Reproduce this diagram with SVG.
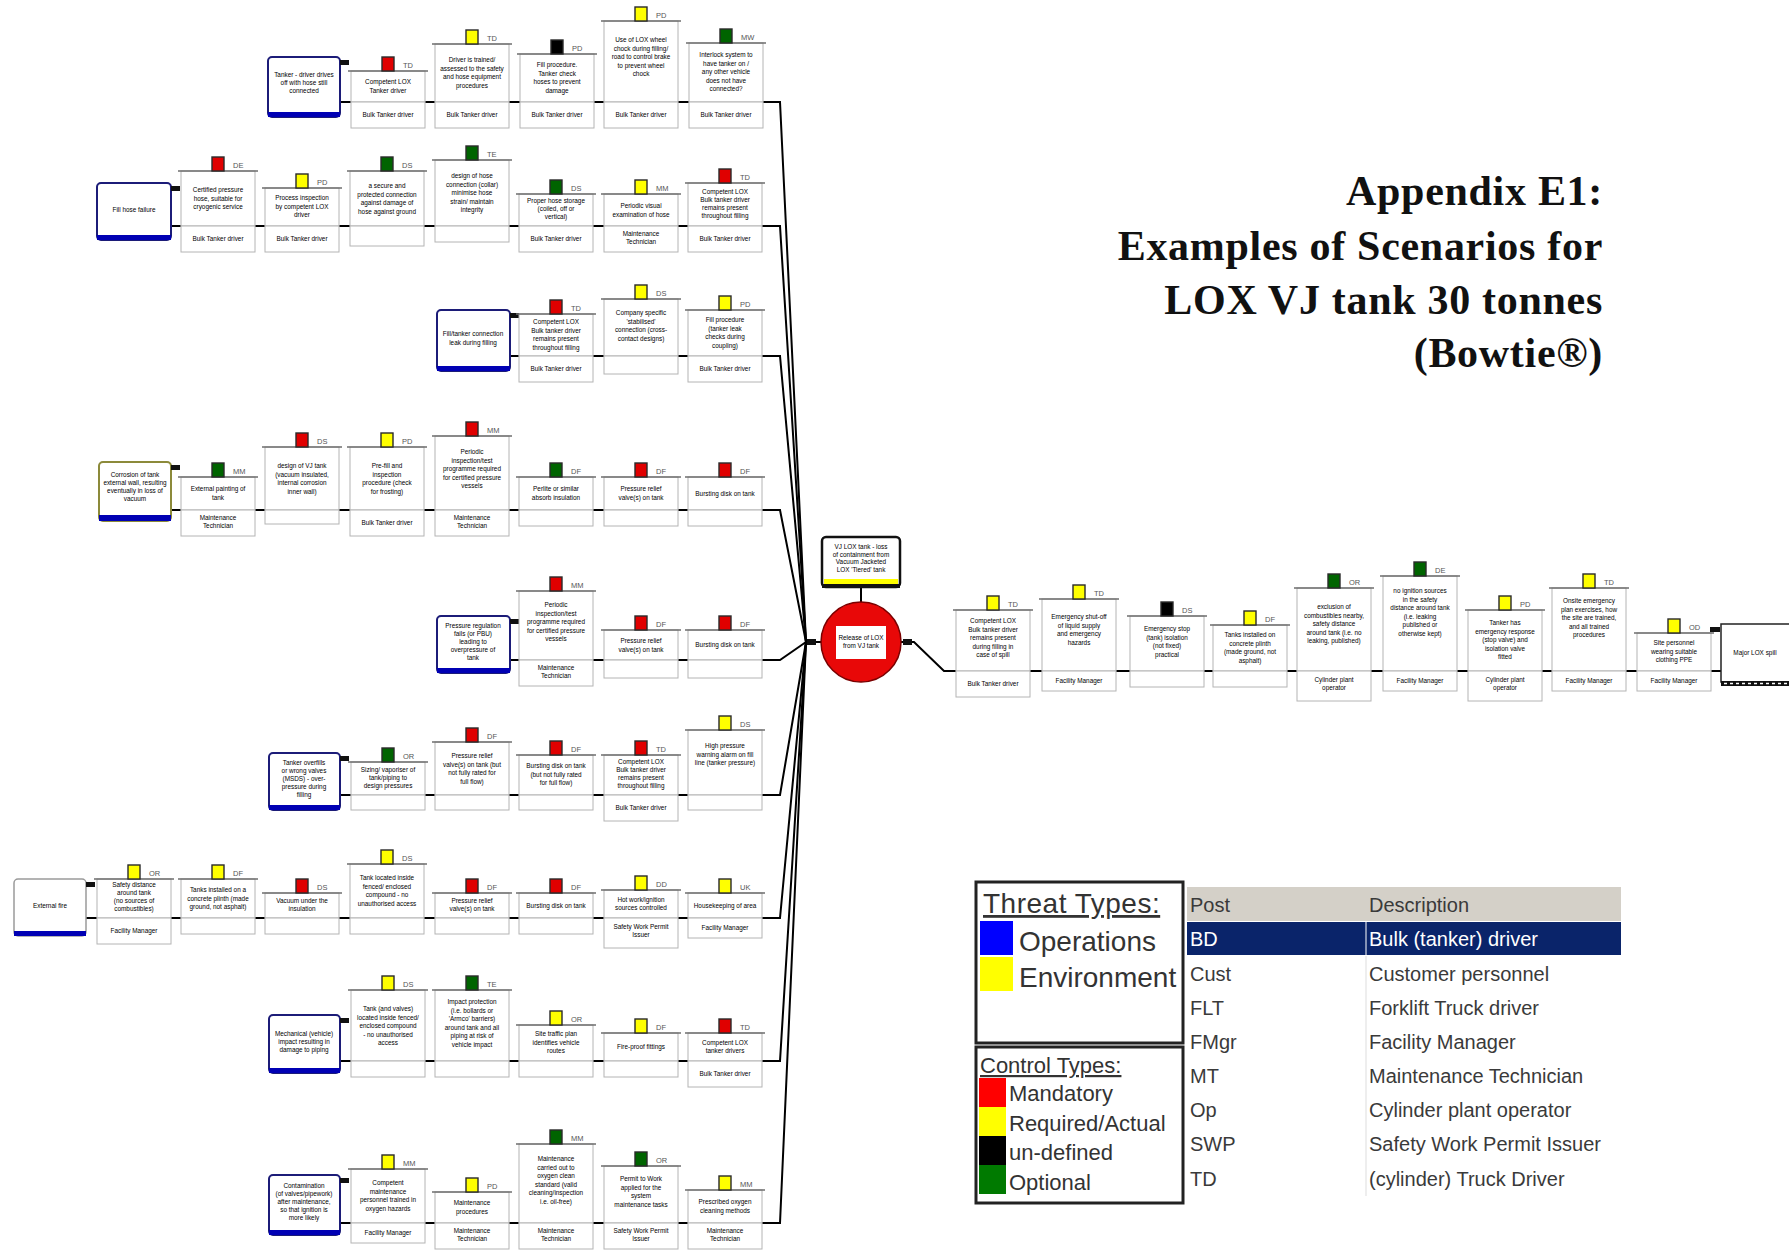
<svg xmlns="http://www.w3.org/2000/svg" width="1789" height="1251" viewBox="0 0 1789 1251">
<style>
.bg{fill:#fff}
.bx{fill:#fff;stroke:#b4b4b4;stroke-width:1}
.hd{stroke:#6e6e6e;stroke-width:1.4}
.ind{stroke:#2a2a2a;stroke-width:1.4}
.r{fill:#e00000}.y{fill:#ffff00}.k{fill:#000}.g{fill:#006400}
.cd{font-family:"Liberation Sans",Arial,sans-serif;font-size:7.5px;fill:#555}
.bt{font-family:"Liberation Sans",Arial,sans-serif;font-size:6.4px;fill:#000;text-anchor:middle}
.th{fill:#fff;stroke:#1c1c78;stroke-width:2}
.thy{fill:#fff;stroke:#8c8a3a;stroke-width:2}
.thg{fill:#fff;stroke:#9a9a9a;stroke-width:1.5}
.thb{fill:#0000b4}
.kn{fill:#111}
.ln{stroke:#000;stroke-width:2;fill:none}
.ttl{font-family:"Liberation Serif","Times New Roman",serif;font-weight:bold;font-size:42px;letter-spacing:0.7px;fill:#111;text-anchor:end}
.lg{font-family:"Liberation Sans",Arial,sans-serif;fill:#333}
.tb{font-family:"Liberation Sans",Arial,sans-serif;font-size:20px;fill:#3a3a3a}
</style>
<rect class="bg" x="0" y="0" width="1789" height="1251"/>

<!-- title -->
<g id="title">
<text class="ttl" x="1603" y="205">Appendix E1:</text>
<text class="ttl" x="1603" y="260">Examples of Scenarios for</text>
<text class="ttl" x="1603" y="314">LOX VJ tank 30 tonnes</text>
<text class="ttl" x="1603" y="367">(Bowtie®)</text>
</g>

<!-- connectors: threat lines, bundle into the top event, consequence line -->
<g id="connectors">
<path class="ln" d="M340,102 H780 L806,642"/>
<path class="ln" d="M171,226 H780 L806,642"/>
<path class="ln" d="M510,356 H780 L806,642"/>
<path class="ln" d="M171,510 H780 L806,642"/>
<path class="ln" d="M510,660 H780 L806,642"/>
<path class="ln" d="M340,795 H780 L806,642"/>
<path class="ln" d="M86,918 H780 L806,642"/>
<path class="ln" d="M340,1061 H780 L806,642"/>
<path class="ln" d="M340,1223 H780 L806,642"/>
<path class="ln" d="M806,642 H822"/>
<rect class="kn" x="807" y="639" width="9" height="6"/>
<path class="ln" d="M861,588 V603"/>
<path class="ln" d="M900,642 H914 L944,671 H1722"/>
<rect class="kn" x="903" y="639" width="9" height="6"/>
<rect class="kn" x="1710" y="627" width="10" height="5"/>
</g>

<!-- hazard and top event -->
<g id="hazard">
<rect x="822" y="537" width="78" height="50" rx="4" fill="#fff" stroke="#111" stroke-width="2.5"/>
<rect x="824" y="579" width="74" height="5" fill="#ffff00"/>
<rect x="822" y="584" width="78" height="4" fill="#111"/>
<text class="bt" x="861" y="549"><tspan x="861">VJ LOX tank - loss</tspan><tspan x="861" dy="7.5">of containment from</tspan><tspan x="861" dy="7.5">Vacuum Jacketed</tspan><tspan x="861" dy="7.5">LOX 'Tiered' tank</tspan></text>
</g>
<g id="top-event">
<circle cx="861" cy="642" r="40" fill="#e80808" stroke="#7a0000" stroke-width="1.5"/>
<rect x="836" y="626" width="50" height="33" fill="#fff"/>
<text class="bt" x="861" y="640"><tspan x="861">Release of LOX</tspan><tspan x="861" dy="8">from VJ tank</tspan></text>
</g>

<!-- threat 1 -->
<g id="threat1">
<rect class="th" x="268" y="57" width="72" height="60" rx="4"/>
<rect class="thb" x="268" y="112" width="72" height="5"/>
<rect class="kn" x="340" y="60" width="9" height="5"/>
<text class="bt" x="304" y="77"><tspan x="304">Tanker - driver drives</tspan><tspan x="304" dy="8">off with hose still</tspan><tspan x="304" dy="8">connected</tspan></text>
</g>
<g id="r1b1" transform="translate(351,102)">
<rect class="bx" x="0" y="-31" width="74" height="31"/><line class="hd" x1="-3" y1="-31" x2="77" y2="-31"/>
<rect class="ind r" x="31" y="-45" width="12" height="14"/><text class="cd" x="52" y="-34">TD</text>
<text class="bt" y="-18"><tspan x="37">Competent LOX</tspan><tspan x="37" dy="8.5">Tanker driver</tspan></text>
<rect class="bx" x="0" y="0" width="74" height="26"/><text class="bt" x="37" y="15">Bulk Tanker driver</text>
</g>
<g id="r1b2" transform="translate(435,102)">
<rect class="bx" x="0" y="-58" width="74" height="58"/><line class="hd" x1="-3" y1="-58" x2="77" y2="-58"/>
<rect class="ind y" x="31" y="-72" width="12" height="14"/><text class="cd" x="52" y="-61">TD</text>
<text class="bt" y="-40"><tspan x="37">Driver is trained/</tspan><tspan x="37" dy="8.5">assessed to the safety</tspan><tspan x="37" dy="8.5">and hose equipment</tspan><tspan x="37" dy="8.5">procedures</tspan></text>
<rect class="bx" x="0" y="0" width="74" height="26"/><text class="bt" x="37" y="15">Bulk Tanker driver</text>
</g>
<g id="r1b3" transform="translate(520,102)">
<rect class="bx" x="0" y="-48" width="74" height="48"/><line class="hd" x1="-3" y1="-48" x2="77" y2="-48"/>
<rect class="ind k" x="31" y="-62" width="12" height="14"/><text class="cd" x="52" y="-51">PD</text>
<text class="bt" y="-35"><tspan x="37">Fill procedure.</tspan><tspan x="37" dy="8.5">Tanker check</tspan><tspan x="37" dy="8.5">hoses to prevent</tspan><tspan x="37" dy="8.5">damage</tspan></text>
<rect class="bx" x="0" y="0" width="74" height="26"/><text class="bt" x="37" y="15">Bulk Tanker driver</text>
</g>
<g id="r1b4" transform="translate(604,102)">
<rect class="bx" x="0" y="-81" width="74" height="81"/><line class="hd" x1="-3" y1="-81" x2="77" y2="-81"/>
<rect class="ind y" x="31" y="-95" width="12" height="14"/><text class="cd" x="52" y="-84">PD</text>
<text class="bt" y="-60"><tspan x="37">Use of LOX wheel</tspan><tspan x="37" dy="8.5">chock during filling/</tspan><tspan x="37" dy="8.5">road to control brake</tspan><tspan x="37" dy="8.5">to prevent wheel</tspan><tspan x="37" dy="8.5">chock</tspan></text>
<rect class="bx" x="0" y="0" width="74" height="26"/><text class="bt" x="37" y="15">Bulk Tanker driver</text>
</g>
<g id="r1b5" transform="translate(689,102)">
<rect class="bx" x="0" y="-59" width="74" height="59"/><line class="hd" x1="-3" y1="-59" x2="77" y2="-59"/>
<rect class="ind g" x="31" y="-73" width="12" height="14"/><text class="cd" x="52" y="-62">MW</text>
<text class="bt" y="-45"><tspan x="37">Interlock system to</tspan><tspan x="37" dy="8.5">have tanker on /</tspan><tspan x="37" dy="8.5">any other vehicle</tspan><tspan x="37" dy="8.5">does not have</tspan><tspan x="37" dy="8.5">connected?</tspan></text>
<rect class="bx" x="0" y="0" width="74" height="26"/><text class="bt" x="37" y="15">Bulk Tanker driver</text>
</g>

<!-- threat 2 -->
<g id="threat2">
<rect class="th" x="97" y="183" width="74" height="57" rx="4"/>
<rect class="thb" x="97" y="235" width="74" height="5"/>
<rect class="kn" x="171" y="186" width="9" height="5"/>
<text class="bt" x="134" y="212">Fill hose failure</text>
</g>
<g id="r2b1" transform="translate(181,226)">
<rect class="bx" x="0" y="-55" width="74" height="55"/><line class="hd" x1="-3" y1="-55" x2="77" y2="-55"/>
<rect class="ind r" x="31" y="-69" width="12" height="14"/><text class="cd" x="52" y="-58">DE</text>
<text class="bt" y="-34"><tspan x="37">Certified pressure</tspan><tspan x="37" dy="8.5">hose, suitable for</tspan><tspan x="37" dy="8.5">cryogenic service</tspan></text>
<rect class="bx" x="0" y="0" width="74" height="26"/><text class="bt" x="37" y="15">Bulk Tanker driver</text>
</g>
<g id="r2b2" transform="translate(265,226)">
<rect class="bx" x="0" y="-38" width="74" height="38"/><line class="hd" x1="-3" y1="-38" x2="77" y2="-38"/>
<rect class="ind y" x="31" y="-52" width="12" height="14"/><text class="cd" x="52" y="-41">PD</text>
<text class="bt" y="-26"><tspan x="37">Process inspection</tspan><tspan x="37" dy="8.5">by competent LOX</tspan><tspan x="37" dy="8.5">driver</tspan></text>
<rect class="bx" x="0" y="0" width="74" height="26"/><text class="bt" x="37" y="15">Bulk Tanker driver</text>
</g>
<g id="r2b3" transform="translate(350,226)">
<rect class="bx" x="0" y="-55" width="74" height="55"/><line class="hd" x1="-3" y1="-55" x2="77" y2="-55"/>
<rect class="ind g" x="31" y="-69" width="12" height="14"/><text class="cd" x="52" y="-58">DS</text>
<text class="bt" y="-38"><tspan x="37">a secure and</tspan><tspan x="37" dy="8.5">protected connection</tspan><tspan x="37" dy="8.5">against damage of</tspan><tspan x="37" dy="8.5">hose against ground</tspan></text>
<rect class="bx" x="0" y="0" width="74" height="20"/>
</g>
<g id="r2b4" transform="translate(435,226)">
<rect class="bx" x="0" y="-66" width="74" height="66"/><line class="hd" x1="-3" y1="-66" x2="77" y2="-66"/>
<rect class="ind g" x="31" y="-80" width="12" height="14"/><text class="cd" x="52" y="-69">TE</text>
<text class="bt" y="-48"><tspan x="37">design of hose</tspan><tspan x="37" dy="8.5">connection (collar)</tspan><tspan x="37" dy="8.5">minimise hose</tspan><tspan x="37" dy="8.5">strain/ maintain</tspan><tspan x="37" dy="8.5">integrity</tspan></text>
<rect class="bx" x="0" y="0" width="74" height="16"/>
</g>
<g id="r2b5" transform="translate(519,226)">
<rect class="bx" x="0" y="-32" width="74" height="32"/><line class="hd" x1="-3" y1="-32" x2="77" y2="-32"/>
<rect class="ind g" x="31" y="-46" width="12" height="14"/><text class="cd" x="52" y="-35">DS</text>
<text class="bt" y="-23"><tspan x="37">Proper hose storage</tspan><tspan x="37" dy="8">(coiled, off or</tspan><tspan x="37" dy="8">vertical)</tspan></text>
<rect class="bx" x="0" y="0" width="74" height="26"/><text class="bt" x="37" y="15">Bulk Tanker driver</text>
</g>
<g id="r2b6" transform="translate(604,226)">
<rect class="bx" x="0" y="-32" width="74" height="32"/><line class="hd" x1="-3" y1="-32" x2="77" y2="-32"/>
<rect class="ind y" x="31" y="-46" width="12" height="14"/><text class="cd" x="52" y="-35">MM</text>
<text class="bt" y="-18"><tspan x="37">Periodic visual</tspan><tspan x="37" dy="8.5">examination of hose</tspan></text>
<rect class="bx" x="0" y="0" width="74" height="26"/><text class="bt" y="10"><tspan x="37">Maintenance</tspan><tspan x="37" dy="8">Technician</tspan></text>
</g>
<g id="r2b7" transform="translate(688,226)">
<rect class="bx" x="0" y="-43" width="74" height="43"/><line class="hd" x1="-3" y1="-43" x2="77" y2="-43"/>
<rect class="ind r" x="31" y="-57" width="12" height="14"/><text class="cd" x="52" y="-46">TD</text>
<text class="bt" y="-32"><tspan x="37">Competent LOX</tspan><tspan x="37" dy="8">Bulk tanker driver</tspan><tspan x="37" dy="8">remains present</tspan><tspan x="37" dy="8">throughout filling</tspan></text>
<rect class="bx" x="0" y="0" width="74" height="26"/><text class="bt" x="37" y="15">Bulk Tanker driver</text>
</g>

<!-- threat 3 -->
<g id="threat3">
<rect class="th" x="437" y="310" width="73" height="61" rx="4"/>
<rect class="thb" x="437" y="366" width="73" height="5"/>
<rect class="kn" x="510" y="313" width="9" height="5"/>
<text class="bt" x="473" y="336"><tspan x="473">Fill/tanker connection</tspan><tspan x="473" dy="8.5">leak during filling</tspan></text>
</g>
<g id="r3b1" transform="translate(519,356)">
<rect class="bx" x="0" y="-42" width="74" height="42"/><line class="hd" x1="-3" y1="-42" x2="77" y2="-42"/>
<rect class="ind r" x="31" y="-56" width="12" height="14"/><text class="cd" x="52" y="-45">TD</text>
<text class="bt" y="-32"><tspan x="37">Competent LOX</tspan><tspan x="37" dy="8.5">Bulk tanker driver</tspan><tspan x="37" dy="8.5">remains present</tspan><tspan x="37" dy="8.5">throughout filling</tspan></text>
<rect class="bx" x="0" y="0" width="74" height="26"/><text class="bt" x="37" y="15">Bulk Tanker driver</text>
</g>
<g id="r3b2" transform="translate(604,356)">
<rect class="bx" x="0" y="-57" width="74" height="57"/><line class="hd" x1="-3" y1="-57" x2="77" y2="-57"/>
<rect class="ind y" x="31" y="-71" width="12" height="14"/><text class="cd" x="52" y="-60">DS</text>
<text class="bt" y="-41"><tspan x="37">Company specific</tspan><tspan x="37" dy="8.5">'stabilised'</tspan><tspan x="37" dy="8.5">connection (cross-</tspan><tspan x="37" dy="8.5">contact designs)</tspan></text>
<rect class="bx" x="0" y="0" width="74" height="18"/>
</g>
<g id="r3b3" transform="translate(688,356)">
<rect class="bx" x="0" y="-46" width="74" height="46"/><line class="hd" x1="-3" y1="-46" x2="77" y2="-46"/>
<rect class="ind y" x="31" y="-60" width="12" height="14"/><text class="cd" x="52" y="-49">PD</text>
<text class="bt" y="-34"><tspan x="37">Fill procedure</tspan><tspan x="37" dy="8.5">(tanker leak</tspan><tspan x="37" dy="8.5">checks during</tspan><tspan x="37" dy="8.5">coupling)</tspan></text>
<rect class="bx" x="0" y="0" width="74" height="26"/><text class="bt" x="37" y="15">Bulk Tanker driver</text>
</g>

<!-- threat 4 -->
<g id="threat4">
<rect class="thy" x="99" y="462" width="72" height="59" rx="4"/>
<rect class="thb" x="99" y="515" width="72" height="6"/>
<rect class="kn" x="171" y="465" width="9" height="5"/>
<text class="bt" x="135" y="477"><tspan x="135">Corrosion of tank</tspan><tspan x="135" dy="8">external wall, resulting</tspan><tspan x="135" dy="8">eventually in loss of</tspan><tspan x="135" dy="8">vacuum</tspan></text>
</g>
<g id="r4b1" transform="translate(181,510)">
<rect class="bx" x="0" y="-33" width="74" height="33"/><line class="hd" x1="-3" y1="-33" x2="77" y2="-33"/>
<rect class="ind g" x="31" y="-47" width="12" height="14"/><text class="cd" x="52" y="-36">MM</text>
<text class="bt" y="-19"><tspan x="37">External painting of</tspan><tspan x="37" dy="8.5">tank</tspan></text>
<rect class="bx" x="0" y="0" width="74" height="26"/><text class="bt" y="10"><tspan x="37">Maintenance</tspan><tspan x="37" dy="8">Technician</tspan></text>
</g>
<g id="r4b2" transform="translate(265,510)">
<rect class="bx" x="0" y="-63" width="74" height="63"/><line class="hd" x1="-3" y1="-63" x2="77" y2="-63"/>
<rect class="ind r" x="31" y="-77" width="12" height="14"/><text class="cd" x="52" y="-66">DS</text>
<text class="bt" y="-42"><tspan x="37">design of VJ tank</tspan><tspan x="37" dy="8.5">(vacuum insulated,</tspan><tspan x="37" dy="8.5">internal corrosion</tspan><tspan x="37" dy="8.5">inner wall)</tspan></text>
<rect class="bx" x="0" y="0" width="74" height="14"/>
</g>
<g id="r4b3" transform="translate(350,510)">
<rect class="bx" x="0" y="-63" width="74" height="63"/><line class="hd" x1="-3" y1="-63" x2="77" y2="-63"/>
<rect class="ind y" x="31" y="-77" width="12" height="14"/><text class="cd" x="52" y="-66">PD</text>
<text class="bt" y="-42"><tspan x="37">Pre-fill and</tspan><tspan x="37" dy="8.5">inspection</tspan><tspan x="37" dy="8.5">procedure (check</tspan><tspan x="37" dy="8.5">for frosting)</tspan></text>
<rect class="bx" x="0" y="0" width="74" height="26"/><text class="bt" x="37" y="15">Bulk Tanker driver</text>
</g>
<g id="r4b4" transform="translate(435,510)">
<rect class="bx" x="0" y="-74" width="74" height="74"/><line class="hd" x1="-3" y1="-74" x2="77" y2="-74"/>
<rect class="ind r" x="31" y="-88" width="12" height="14"/><text class="cd" x="52" y="-77">MM</text>
<text class="bt" y="-56"><tspan x="37">Periodic</tspan><tspan x="37" dy="8.5">inspection/test</tspan><tspan x="37" dy="8.5">programme required</tspan><tspan x="37" dy="8.5">for certified pressure</tspan><tspan x="37" dy="8.5">vessels</tspan></text>
<rect class="bx" x="0" y="0" width="74" height="26"/><text class="bt" y="10"><tspan x="37">Maintenance</tspan><tspan x="37" dy="8">Technician</tspan></text>
</g>
<g id="r4b5" transform="translate(519,510)">
<rect class="bx" x="0" y="-33" width="74" height="33"/><line class="hd" x1="-3" y1="-33" x2="77" y2="-33"/>
<rect class="ind g" x="31" y="-47" width="12" height="14"/><text class="cd" x="52" y="-36">DF</text>
<text class="bt" y="-19"><tspan x="37">Perlite or similar</tspan><tspan x="37" dy="8.5">absorb insulation</tspan></text>
<rect class="bx" x="0" y="0" width="74" height="16"/>
</g>
<g id="r4b6" transform="translate(604,510)">
<rect class="bx" x="0" y="-33" width="74" height="33"/><line class="hd" x1="-3" y1="-33" x2="77" y2="-33"/>
<rect class="ind r" x="31" y="-47" width="12" height="14"/><text class="cd" x="52" y="-36">DF</text>
<text class="bt" y="-19"><tspan x="37">Pressure relief</tspan><tspan x="37" dy="8.5">valve(s) on tank</tspan></text>
<rect class="bx" x="0" y="0" width="74" height="16"/>
</g>
<g id="r4b7" transform="translate(688,510)">
<rect class="bx" x="0" y="-33" width="74" height="33"/><line class="hd" x1="-3" y1="-33" x2="77" y2="-33"/>
<rect class="ind r" x="31" y="-47" width="12" height="14"/><text class="cd" x="52" y="-36">DF</text>
<text class="bt" x="37" y="-14">Bursting disk on tank</text>
<rect class="bx" x="0" y="0" width="74" height="16"/>
</g>

<!-- threat 5 -->
<g id="threat5">
<rect class="th" x="437" y="616" width="73" height="57" rx="4"/>
<rect class="thb" x="437" y="668" width="73" height="5"/>
<rect class="kn" x="510" y="619" width="9" height="5"/>
<text class="bt" x="473" y="628"><tspan x="473">Pressure regulation</tspan><tspan x="473" dy="8">fails (or PBU)</tspan><tspan x="473" dy="8">leading to</tspan><tspan x="473" dy="8">overpressure of</tspan><tspan x="473" dy="8">tank</tspan></text>
</g>
<g id="r5b1" transform="translate(519,660)">
<rect class="bx" x="0" y="-69" width="74" height="69"/><line class="hd" x1="-3" y1="-69" x2="77" y2="-69"/>
<rect class="ind r" x="31" y="-83" width="12" height="14"/><text class="cd" x="52" y="-72">MM</text>
<text class="bt" y="-53"><tspan x="37">Periodic</tspan><tspan x="37" dy="8.5">inspection/test</tspan><tspan x="37" dy="8.5">programme required</tspan><tspan x="37" dy="8.5">for certified pressure</tspan><tspan x="37" dy="8.5">vessels</tspan></text>
<rect class="bx" x="0" y="0" width="74" height="26"/><text class="bt" y="10"><tspan x="37">Maintenance</tspan><tspan x="37" dy="8">Technician</tspan></text>
</g>
<g id="r5b2" transform="translate(604,660)">
<rect class="bx" x="0" y="-30" width="74" height="30"/><line class="hd" x1="-3" y1="-30" x2="77" y2="-30"/>
<rect class="ind r" x="31" y="-44" width="12" height="14"/><text class="cd" x="52" y="-33">DF</text>
<text class="bt" y="-17"><tspan x="37">Pressure relief</tspan><tspan x="37" dy="8.5">valve(s) on tank</tspan></text>
<rect class="bx" x="0" y="0" width="74" height="18"/>
</g>
<g id="r5b3" transform="translate(688,660)">
<rect class="bx" x="0" y="-30" width="74" height="30"/><line class="hd" x1="-3" y1="-30" x2="77" y2="-30"/>
<rect class="ind r" x="31" y="-44" width="12" height="14"/><text class="cd" x="52" y="-33">DF</text>
<text class="bt" x="37" y="-13">Bursting disk on tank</text>
<rect class="bx" x="0" y="0" width="74" height="18"/>
</g>

<!-- threat 6 -->
<g id="threat6">
<rect class="th" x="269" y="753" width="71" height="57" rx="4"/>
<rect class="thb" x="269" y="805" width="71" height="5"/>
<rect class="kn" x="340" y="756" width="9" height="5"/>
<text class="bt" x="304" y="765"><tspan x="304">Tanker overfills</tspan><tspan x="304" dy="8">or wrong valves</tspan><tspan x="304" dy="8">(MSDS) - over-</tspan><tspan x="304" dy="8">pressure during</tspan><tspan x="304" dy="8">filling</tspan></text>
</g>
<g id="r6b1" transform="translate(351,795)">
<rect class="bx" x="0" y="-33" width="74" height="33"/><line class="hd" x1="-3" y1="-33" x2="77" y2="-33"/>
<rect class="ind g" x="31" y="-47" width="12" height="14"/><text class="cd" x="52" y="-36">OR</text>
<text class="bt" y="-23"><tspan x="37">Sizing/ vaporiser of</tspan><tspan x="37" dy="8">tank/piping to</tspan><tspan x="37" dy="8">design pressures</tspan></text>
<rect class="bx" x="0" y="0" width="74" height="15"/>
</g>
<g id="r6b2" transform="translate(435,795)">
<rect class="bx" x="0" y="-53" width="74" height="53"/><line class="hd" x1="-3" y1="-53" x2="77" y2="-53"/>
<rect class="ind r" x="31" y="-67" width="12" height="14"/><text class="cd" x="52" y="-56">DF</text>
<text class="bt" y="-37"><tspan x="37">Pressure relief</tspan><tspan x="37" dy="8.5">valve(s) on tank (but</tspan><tspan x="37" dy="8.5">not fully rated for</tspan><tspan x="37" dy="8.5">full flow)</tspan></text>
<rect class="bx" x="0" y="0" width="74" height="15"/>
</g>
<g id="r6b3" transform="translate(519,795)">
<rect class="bx" x="0" y="-40" width="74" height="40"/><line class="hd" x1="-3" y1="-40" x2="77" y2="-40"/>
<rect class="ind r" x="31" y="-54" width="12" height="14"/><text class="cd" x="52" y="-43">DF</text>
<text class="bt" y="-27"><tspan x="37">Bursting disk on tank</tspan><tspan x="37" dy="8.5">(but not fully rated</tspan><tspan x="37" dy="8.5">for full flow)</tspan></text>
<rect class="bx" x="0" y="0" width="74" height="15"/>
</g>
<g id="r6b4" transform="translate(604,795)">
<rect class="bx" x="0" y="-40" width="74" height="40"/><line class="hd" x1="-3" y1="-40" x2="77" y2="-40"/>
<rect class="ind r" x="31" y="-54" width="12" height="14"/><text class="cd" x="52" y="-43">TD</text>
<text class="bt" y="-31"><tspan x="37">Competent LOX</tspan><tspan x="37" dy="8">Bulk tanker driver</tspan><tspan x="37" dy="8">remains present</tspan><tspan x="37" dy="8">throughout filling</tspan></text>
<rect class="bx" x="0" y="0" width="74" height="26"/><text class="bt" x="37" y="15">Bulk Tanker driver</text>
</g>
<g id="r6b5" transform="translate(688,795)">
<rect class="bx" x="0" y="-65" width="74" height="65"/><line class="hd" x1="-3" y1="-65" x2="77" y2="-65"/>
<rect class="ind y" x="31" y="-79" width="12" height="14"/><text class="cd" x="52" y="-68">DS</text>
<text class="bt" y="-47"><tspan x="37">High pressure</tspan><tspan x="37" dy="8.5">warning alarm on fill</tspan><tspan x="37" dy="8.5">line (tanker pressure)</tspan></text>
<rect class="bx" x="0" y="0" width="74" height="15"/>
</g>

<!-- threat 7 -->
<g id="threat7">
<rect class="thg" x="14" y="879" width="72" height="57" rx="4"/>
<rect class="thb" x="14" y="931" width="72" height="5"/>
<rect class="kn" x="86" y="882" width="9" height="5"/>
<text class="bt" x="50" y="908">External fire</text>
</g>
<g id="r7b1" transform="translate(97,918)">
<rect class="bx" x="0" y="-39" width="74" height="39"/><line class="hd" x1="-3" y1="-39" x2="77" y2="-39"/>
<rect class="ind y" x="31" y="-53" width="12" height="14"/><text class="cd" x="52" y="-42">OR</text>
<text class="bt" y="-31"><tspan x="37">Safety distance</tspan><tspan x="37" dy="8">around tank</tspan><tspan x="37" dy="8">(no sources of</tspan><tspan x="37" dy="8">combustibles)</tspan></text>
<rect class="bx" x="0" y="0" width="74" height="26"/><text class="bt" x="37" y="15">Facility Manager</text>
</g>
<g id="r7b2" transform="translate(181,918)">
<rect class="bx" x="0" y="-39" width="74" height="39"/><line class="hd" x1="-3" y1="-39" x2="77" y2="-39"/>
<rect class="ind y" x="31" y="-53" width="12" height="14"/><text class="cd" x="52" y="-42">DF</text>
<text class="bt" y="-26"><tspan x="37">Tanks installed on a</tspan><tspan x="37" dy="8.5">concrete plinth (made</tspan><tspan x="37" dy="8.5">ground, not asphalt)</tspan></text>
<rect class="bx" x="0" y="0" width="74" height="16"/>
</g>
<g id="r7b3" transform="translate(265,918)">
<rect class="bx" x="0" y="-25" width="74" height="25"/><line class="hd" x1="-3" y1="-25" x2="77" y2="-25"/>
<rect class="ind r" x="31" y="-39" width="12" height="14"/><text class="cd" x="52" y="-28">DS</text>
<text class="bt" y="-15"><tspan x="37">Vacuum under the</tspan><tspan x="37" dy="8">insulation</tspan></text>
<rect class="bx" x="0" y="0" width="74" height="16"/>
</g>
<g id="r7b4" transform="translate(350,918)">
<rect class="bx" x="0" y="-54" width="74" height="54"/><line class="hd" x1="-3" y1="-54" x2="77" y2="-54"/>
<rect class="ind y" x="31" y="-68" width="12" height="14"/><text class="cd" x="52" y="-57">DS</text>
<text class="bt" y="-38"><tspan x="37">Tank located inside</tspan><tspan x="37" dy="8.5">fenced/ enclosed</tspan><tspan x="37" dy="8.5">compound - no</tspan><tspan x="37" dy="8.5">unauthorised access</tspan></text>
<rect class="bx" x="0" y="0" width="74" height="16"/>
</g>
<g id="r7b5" transform="translate(435,918)">
<rect class="bx" x="0" y="-25" width="74" height="25"/><line class="hd" x1="-3" y1="-25" x2="77" y2="-25"/>
<rect class="ind r" x="31" y="-39" width="12" height="14"/><text class="cd" x="52" y="-28">DF</text>
<text class="bt" y="-15"><tspan x="37">Pressure relief</tspan><tspan x="37" dy="8">valve(s) on tank</tspan></text>
<rect class="bx" x="0" y="0" width="74" height="16"/>
</g>
<g id="r7b6" transform="translate(519,918)">
<rect class="bx" x="0" y="-25" width="74" height="25"/><line class="hd" x1="-3" y1="-25" x2="77" y2="-25"/>
<rect class="ind r" x="31" y="-39" width="12" height="14"/><text class="cd" x="52" y="-28">DF</text>
<text class="bt" x="37" y="-10">Bursting disk on tank</text>
<rect class="bx" x="0" y="0" width="74" height="16"/>
</g>
<g id="r7b7" transform="translate(604,918)">
<rect class="bx" x="0" y="-28" width="74" height="28"/><line class="hd" x1="-3" y1="-28" x2="77" y2="-28"/>
<rect class="ind y" x="31" y="-42" width="12" height="14"/><text class="cd" x="52" y="-31">DD</text>
<text class="bt" y="-16"><tspan x="37">Hot work/ignition</tspan><tspan x="37" dy="8">sources controlled</tspan></text>
<rect class="bx" x="0" y="0" width="74" height="30"/><text class="bt" y="11"><tspan x="37">Safety Work Permit</tspan><tspan x="37" dy="8">Issuer</tspan></text>
</g>
<g id="r7b8" transform="translate(688,918)">
<rect class="bx" x="0" y="-25" width="74" height="25"/><line class="hd" x1="-3" y1="-25" x2="77" y2="-25"/>
<rect class="ind y" x="31" y="-39" width="12" height="14"/><text class="cd" x="52" y="-28">UK</text>
<text class="bt" x="37" y="-10">Housekeeping of area</text>
<rect class="bx" x="0" y="0" width="74" height="20"/><text class="bt" x="37" y="12">Facility Manager</text>
</g>

<!-- threat 8 -->
<g id="threat8">
<rect class="th" x="269" y="1015" width="71" height="58" rx="4"/>
<rect class="thb" x="269" y="1068" width="71" height="5"/>
<rect class="kn" x="340" y="1018" width="9" height="5"/>
<text class="bt" x="304" y="1036"><tspan x="304">Mechanical (vehicle)</tspan><tspan x="304" dy="8">impact resulting in</tspan><tspan x="304" dy="8">damage to piping</tspan></text>
</g>
<g id="r8b1" transform="translate(351,1061)">
<rect class="bx" x="0" y="-71" width="74" height="71"/><line class="hd" x1="-3" y1="-71" x2="77" y2="-71"/>
<rect class="ind y" x="31" y="-85" width="12" height="14"/><text class="cd" x="52" y="-74">DS</text>
<text class="bt" y="-50"><tspan x="37">Tank (and valves)</tspan><tspan x="37" dy="8.5">located inside fenced/</tspan><tspan x="37" dy="8.5">enclosed compound</tspan><tspan x="37" dy="8.5">- no unauthorised</tspan><tspan x="37" dy="8.5">access</tspan></text>
<rect class="bx" x="0" y="0" width="74" height="16"/>
</g>
<g id="r8b2" transform="translate(435,1061)">
<rect class="bx" x="0" y="-71" width="74" height="71"/><line class="hd" x1="-3" y1="-71" x2="77" y2="-71"/>
<rect class="ind g" x="31" y="-85" width="12" height="14"/><text class="cd" x="52" y="-74">TE</text>
<text class="bt" y="-57"><tspan x="37">Impact protection</tspan><tspan x="37" dy="8.5">(i.e. bollards or</tspan><tspan x="37" dy="8.5">'Armco' barriers)</tspan><tspan x="37" dy="8.5">around tank and all</tspan><tspan x="37" dy="8.5">piping at risk of</tspan><tspan x="37" dy="8.5">vehicle impact</tspan></text>
<rect class="bx" x="0" y="0" width="74" height="16"/>
</g>
<g id="r8b3" transform="translate(519,1061)">
<rect class="bx" x="0" y="-36" width="74" height="36"/><line class="hd" x1="-3" y1="-36" x2="77" y2="-36"/>
<rect class="ind y" x="31" y="-50" width="12" height="14"/><text class="cd" x="52" y="-39">OR</text>
<text class="bt" y="-25"><tspan x="37">Site traffic plan</tspan><tspan x="37" dy="8.5">identifies vehicle</tspan><tspan x="37" dy="8.5">routes</tspan></text>
<rect class="bx" x="0" y="0" width="74" height="16"/>
</g>
<g id="r8b4" transform="translate(604,1061)">
<rect class="bx" x="0" y="-28" width="74" height="28"/><line class="hd" x1="-3" y1="-28" x2="77" y2="-28"/>
<rect class="ind y" x="31" y="-42" width="12" height="14"/><text class="cd" x="52" y="-31">DF</text>
<text class="bt" x="37" y="-12">Fire-proof fittings</text>
<rect class="bx" x="0" y="0" width="74" height="16"/>
</g>
<g id="r8b5" transform="translate(688,1061)">
<rect class="bx" x="0" y="-28" width="74" height="28"/><line class="hd" x1="-3" y1="-28" x2="77" y2="-28"/>
<rect class="ind r" x="31" y="-42" width="12" height="14"/><text class="cd" x="52" y="-31">TD</text>
<text class="bt" y="-16"><tspan x="37">Competent LOX</tspan><tspan x="37" dy="8">tanker drivers</tspan></text>
<rect class="bx" x="0" y="0" width="74" height="26"/><text class="bt" x="37" y="15">Bulk Tanker driver</text>
</g>

<!-- threat 9 -->
<g id="threat9">
<rect class="th" x="269" y="1175" width="71" height="60" rx="4"/>
<rect class="thb" x="269" y="1230" width="71" height="5"/>
<rect class="kn" x="340" y="1178" width="9" height="5"/>
<text class="bt" x="304" y="1188"><tspan x="304">Contamination</tspan><tspan x="304" dy="8">(of valves/pipework)</tspan><tspan x="304" dy="8">after maintenance,</tspan><tspan x="304" dy="8">so that ignition is</tspan><tspan x="304" dy="8">more likely</tspan></text>
</g>
<g id="r9b1" transform="translate(351,1223)">
<rect class="bx" x="0" y="-54" width="74" height="54"/><line class="hd" x1="-3" y1="-54" x2="77" y2="-54"/>
<rect class="ind y" x="31" y="-68" width="12" height="14"/><text class="cd" x="52" y="-57">MM</text>
<text class="bt" y="-38"><tspan x="37">Competent</tspan><tspan x="37" dy="8.5">maintenance</tspan><tspan x="37" dy="8.5">personnel trained in</tspan><tspan x="37" dy="8.5">oxygen hazards</tspan></text>
<rect class="bx" x="0" y="0" width="74" height="20"/><text class="bt" x="37" y="12">Facility Manager</text>
</g>
<g id="r9b2" transform="translate(435,1223)">
<rect class="bx" x="0" y="-31" width="74" height="31"/><line class="hd" x1="-3" y1="-31" x2="77" y2="-31"/>
<rect class="ind y" x="31" y="-45" width="12" height="14"/><text class="cd" x="52" y="-34">PD</text>
<text class="bt" y="-18"><tspan x="37">Maintenance</tspan><tspan x="37" dy="8.5">procedures</tspan></text>
<rect class="bx" x="0" y="0" width="74" height="26"/><text class="bt" y="10"><tspan x="37">Maintenance</tspan><tspan x="37" dy="8">Technician</tspan></text>
</g>
<g id="r9b3" transform="translate(519,1223)">
<rect class="bx" x="0" y="-79" width="74" height="79"/><line class="hd" x1="-3" y1="-79" x2="77" y2="-79"/>
<rect class="ind g" x="31" y="-93" width="12" height="14"/><text class="cd" x="52" y="-82">MM</text>
<text class="bt" y="-62"><tspan x="37">Maintenance</tspan><tspan x="37" dy="8.5">carried out to</tspan><tspan x="37" dy="8.5">oxygen clean</tspan><tspan x="37" dy="8.5">standard (valid</tspan><tspan x="37" dy="8.5">cleaning/inspection</tspan><tspan x="37" dy="8.5">i.e. oil-free)</tspan></text>
<rect class="bx" x="0" y="0" width="74" height="26"/><text class="bt" y="10"><tspan x="37">Maintenance</tspan><tspan x="37" dy="8">Technician</tspan></text>
</g>
<g id="r9b4" transform="translate(604,1223)">
<rect class="bx" x="0" y="-57" width="74" height="57"/><line class="hd" x1="-3" y1="-57" x2="77" y2="-57"/>
<rect class="ind g" x="31" y="-71" width="12" height="14"/><text class="cd" x="52" y="-60">OR</text>
<text class="bt" y="-42"><tspan x="37">Permit to Work</tspan><tspan x="37" dy="8.5">applied for the</tspan><tspan x="37" dy="8.5">system</tspan><tspan x="37" dy="8.5">maintenance tasks</tspan></text>
<rect class="bx" x="0" y="0" width="74" height="26"/><text class="bt" y="10"><tspan x="37">Safety Work Permit</tspan><tspan x="37" dy="8">Issuer</tspan></text>
</g>
<g id="r9b5" transform="translate(688,1223)">
<rect class="bx" x="0" y="-33" width="74" height="33"/><line class="hd" x1="-3" y1="-33" x2="77" y2="-33"/>
<rect class="ind y" x="31" y="-47" width="12" height="14"/><text class="cd" x="52" y="-36">MM</text>
<text class="bt" y="-19"><tspan x="37">Prescribed oxygen</tspan><tspan x="37" dy="8.5">cleaning methods</tspan></text>
<rect class="bx" x="0" y="0" width="74" height="26"/><text class="bt" y="10"><tspan x="37">Maintenance</tspan><tspan x="37" dy="8">Technician</tspan></text>
</g>

<!-- consequence side -->
<g id="c1b1" transform="translate(956,671)">
<rect class="bx" x="0" y="-61" width="74" height="61"/><line class="hd" x1="-3" y1="-61" x2="77" y2="-61"/>
<rect class="ind y" x="31" y="-75" width="12" height="14"/><text class="cd" x="52" y="-64">TD</text>
<text class="bt" y="-48"><tspan x="37">Competent LOX</tspan><tspan x="37" dy="8.5">Bulk tanker driver</tspan><tspan x="37" dy="8.5">remains present</tspan><tspan x="37" dy="8.5">during filling in</tspan><tspan x="37" dy="8.5">case of spill</tspan></text>
<rect class="bx" x="0" y="0" width="74" height="26"/><text class="bt" x="37" y="15">Bulk Tanker driver</text>
</g>
<g id="c1b2" transform="translate(1042,671)">
<rect class="bx" x="0" y="-72" width="74" height="72"/><line class="hd" x1="-3" y1="-72" x2="77" y2="-72"/>
<rect class="ind y" x="31" y="-86" width="12" height="14"/><text class="cd" x="52" y="-75">TD</text>
<text class="bt" y="-52"><tspan x="37">Emergency shut-off</tspan><tspan x="37" dy="8.5">of liquid supply</tspan><tspan x="37" dy="8.5">and emergency</tspan><tspan x="37" dy="8.5">hazards</tspan></text>
<rect class="bx" x="0" y="0" width="74" height="20"/><text class="bt" x="37" y="12">Facility Manager</text>
</g>
<g id="c1b3" transform="translate(1130,671)">
<rect class="bx" x="0" y="-55" width="74" height="55"/><line class="hd" x1="-3" y1="-55" x2="77" y2="-55"/>
<rect class="ind k" x="31" y="-69" width="12" height="14"/><text class="cd" x="52" y="-58">DS</text>
<text class="bt" y="-40"><tspan x="37">Emergency stop</tspan><tspan x="37" dy="8.5">(tank) isolation</tspan><tspan x="37" dy="8.5">(not fixed)</tspan><tspan x="37" dy="8.5">practical</tspan></text>
<rect class="bx" x="0" y="0" width="74" height="16"/>
</g>
<g id="c1b4" transform="translate(1213,671)">
<rect class="bx" x="0" y="-46" width="74" height="46"/><line class="hd" x1="-3" y1="-46" x2="77" y2="-46"/>
<rect class="ind y" x="31" y="-60" width="12" height="14"/><text class="cd" x="52" y="-49">DF</text>
<text class="bt" y="-34"><tspan x="37">Tanks installed on</tspan><tspan x="37" dy="8.5">concrete plinth</tspan><tspan x="37" dy="8.5">(made ground, not</tspan><tspan x="37" dy="8.5">asphalt)</tspan></text>
<rect class="bx" x="0" y="0" width="74" height="16"/>
</g>
<g id="c1b5" transform="translate(1297,671)">
<rect class="bx" x="0" y="-83" width="74" height="83"/><line class="hd" x1="-3" y1="-83" x2="77" y2="-83"/>
<rect class="ind g" x="31" y="-97" width="12" height="14"/><text class="cd" x="52" y="-86">OR</text>
<text class="bt" y="-62"><tspan x="37">exclusion of</tspan><tspan x="37" dy="8.5">combustibles nearby,</tspan><tspan x="37" dy="8.5">safety distance</tspan><tspan x="37" dy="8.5">around tank (i.e. no</tspan><tspan x="37" dy="8.5">leaking, published)</tspan></text>
<rect class="bx" x="0" y="0" width="74" height="30"/><text class="bt" y="11"><tspan x="37">Cylinder plant</tspan><tspan x="37" dy="8">operator</tspan></text>
</g>
<g id="c1b6" transform="translate(1383,671)">
<rect class="bx" x="0" y="-95" width="74" height="95"/><line class="hd" x1="-3" y1="-95" x2="77" y2="-95"/>
<rect class="ind g" x="31" y="-109" width="12" height="14"/><text class="cd" x="52" y="-98">DE</text>
<text class="bt" y="-78"><tspan x="37">no ignition sources</tspan><tspan x="37" dy="8.5">in the safety</tspan><tspan x="37" dy="8.5">distance around tank</tspan><tspan x="37" dy="8.5">(i.e. leaking</tspan><tspan x="37" dy="8.5">published or</tspan><tspan x="37" dy="8.5">otherwise kept)</tspan></text>
<rect class="bx" x="0" y="0" width="74" height="20"/><text class="bt" x="37" y="12">Facility Manager</text>
</g>
<g id="c1b7" transform="translate(1468,671)">
<rect class="bx" x="0" y="-61" width="74" height="61"/><line class="hd" x1="-3" y1="-61" x2="77" y2="-61"/>
<rect class="ind y" x="31" y="-75" width="12" height="14"/><text class="cd" x="52" y="-64">PD</text>
<text class="bt" y="-46"><tspan x="37">Tanker has</tspan><tspan x="37" dy="8.5">emergency response</tspan><tspan x="37" dy="8.5">(stop valve) and</tspan><tspan x="37" dy="8.5">isolation valve</tspan><tspan x="37" dy="8.5">fitted</tspan></text>
<rect class="bx" x="0" y="0" width="74" height="30"/><text class="bt" y="11"><tspan x="37">Cylinder plant</tspan><tspan x="37" dy="8">operator</tspan></text>
</g>
<g id="c1b8" transform="translate(1552,671)">
<rect class="bx" x="0" y="-83" width="74" height="83"/><line class="hd" x1="-3" y1="-83" x2="77" y2="-83"/>
<rect class="ind y" x="31" y="-97" width="12" height="14"/><text class="cd" x="52" y="-86">TD</text>
<text class="bt" y="-68"><tspan x="37">Onsite emergency</tspan><tspan x="37" dy="8.5">plan exercises, how</tspan><tspan x="37" dy="8.5">the site are trained,</tspan><tspan x="37" dy="8.5">and all trained</tspan><tspan x="37" dy="8.5">procedures</tspan></text>
<rect class="bx" x="0" y="0" width="74" height="20"/><text class="bt" x="37" y="12">Facility Manager</text>
</g>
<g id="c1b9" transform="translate(1637,671)">
<rect class="bx" x="0" y="-38" width="74" height="38"/><line class="hd" x1="-3" y1="-38" x2="77" y2="-38"/>
<rect class="ind y" x="31" y="-52" width="12" height="14"/><text class="cd" x="52" y="-41">OD</text>
<text class="bt" y="-26"><tspan x="37">Site personnel</tspan><tspan x="37" dy="8.5">wearing suitable</tspan><tspan x="37" dy="8.5">clothing PPE</tspan></text>
<rect class="bx" x="0" y="0" width="74" height="20"/><text class="bt" x="37" y="12">Facility Manager</text>
</g>
<g id="consequence1">
<rect x="1721" y="624" width="80" height="58" fill="#fff" stroke="#222" stroke-width="1.5"/>
<rect x="1721" y="681" width="70" height="5" fill="#111"/>
<path d="M1724,683.5 H1789" stroke="#fff" stroke-width="1.5" stroke-dasharray="3 3"/>
<text class="bt" x="1755" y="655">Major LOX spill</text>
</g>

<!-- legend: threat types -->
<g id="legend-threat">
<rect x="976" y="882" width="207" height="161" fill="#fff" stroke="#222" stroke-width="3"/>
<text class="lg" x="983" y="913" font-size="28" text-decoration="underline" letter-spacing="0.5">Threat Types:</text>
<rect x="980" y="921" width="33" height="34" fill="#0000ff"/>
<text class="lg" x="1019" y="951" font-size="28">Operations</text>
<rect x="980" y="957" width="33" height="34" fill="#ffff00"/>
<text class="lg" x="1019" y="987" font-size="28">Environment</text>
</g>
<g id="legend-control">
<rect x="976" y="1047" width="207" height="156" fill="#fff" stroke="#222" stroke-width="3"/>
<text class="lg" x="980" y="1073" font-size="22" text-decoration="underline">Control Types:</text>
<rect x="979" y="1078" width="27" height="29" fill="#ff0000"/>
<text class="lg" x="1009" y="1101" font-size="22">Mandatory</text>
<rect x="979" y="1107" width="27" height="29" fill="#ffff00"/>
<text class="lg" x="1009" y="1131" font-size="22">Required/Actual</text>
<rect x="979" y="1136" width="27" height="29" fill="#000"/>
<text class="lg" x="1009" y="1160" font-size="22">un-defined</text>
<rect x="979" y="1165" width="27" height="29" fill="#007a00"/>
<text class="lg" x="1009" y="1190" font-size="22">Optional</text>
</g>

<!-- legend: posts table -->
<g id="legend-posts">
<rect x="1187" y="887" width="434" height="34" fill="#d4d0c8"/>
<text class="tb" x="1190" y="912">Post</text>
<text class="tb" x="1369" y="912">Description</text>
<rect x="1187" y="922" width="434" height="33" fill="#0a246a"/>
<line x1="1366" y1="922" x2="1366" y2="955" stroke="#fff" stroke-width="1"/>
<line x1="1366" y1="956" x2="1366" y2="1196" stroke="#ddd" stroke-width="1"/>
<text class="tb" x="1190" y="946" style="fill:#fff">BD</text>
<text class="tb" x="1369" y="946" style="fill:#fff">Bulk (tanker) driver</text>
<text class="tb" x="1190" y="981">Cust</text>
<text class="tb" x="1369" y="981">Customer personnel</text>
<text class="tb" x="1190" y="1015">FLT</text>
<text class="tb" x="1369" y="1015">Forklift Truck driver</text>
<text class="tb" x="1190" y="1049">FMgr</text>
<text class="tb" x="1369" y="1049">Facility Manager</text>
<text class="tb" x="1190" y="1083">MT</text>
<text class="tb" x="1369" y="1083">Maintenance Technician</text>
<text class="tb" x="1190" y="1117">Op</text>
<text class="tb" x="1369" y="1117">Cylinder plant operator</text>
<text class="tb" x="1190" y="1151">SWP</text>
<text class="tb" x="1369" y="1151">Safety Work Permit Issuer</text>
<text class="tb" x="1190" y="1186">TD</text>
<text class="tb" x="1369" y="1186">(cylinder) Truck Driver</text>
</g>
</svg>
